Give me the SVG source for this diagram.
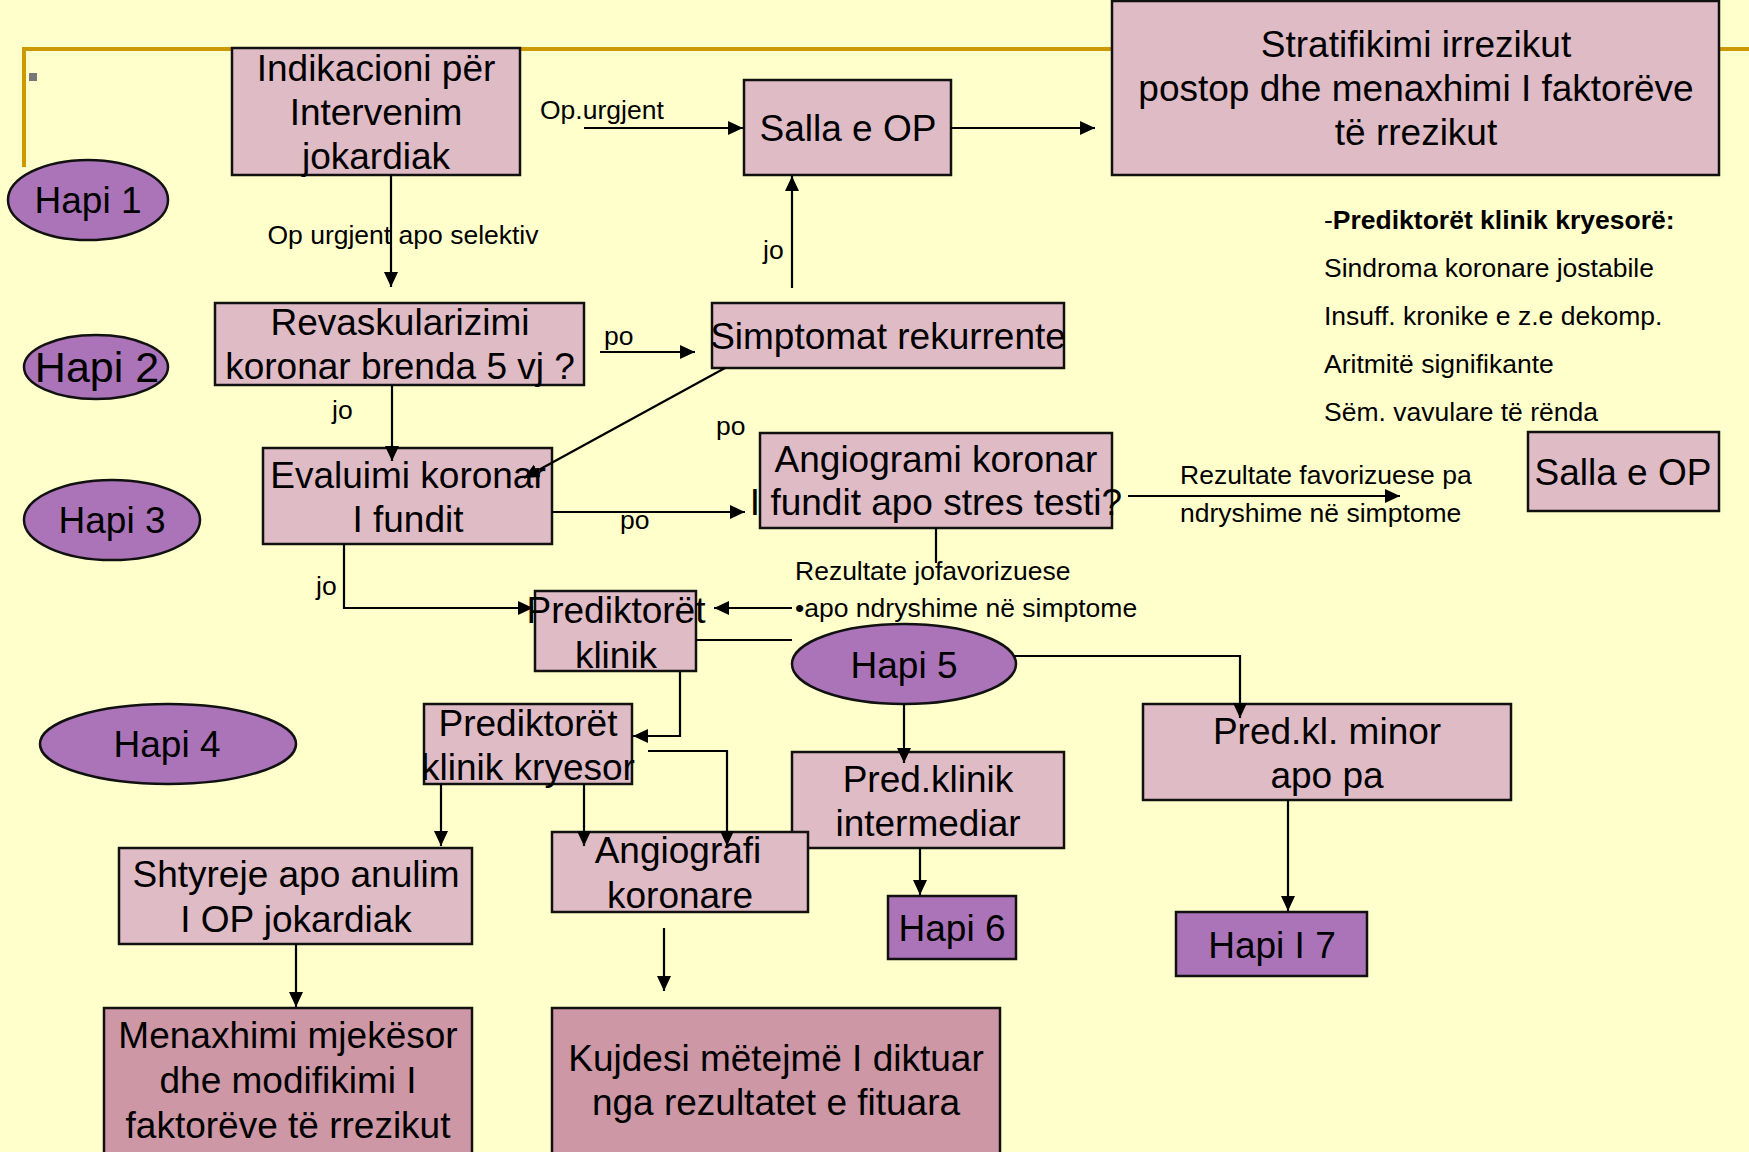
<svg xmlns="http://www.w3.org/2000/svg" width="1749" height="1152" viewBox="0 0 1749 1152">
<defs>
<marker id="arr" markerWidth="16" markerHeight="14" refX="15" refY="7" orient="auto" markerUnits="userSpaceOnUse"><path d="M0,0 L15,7 L0,14 Z" fill="#000"/></marker>
<style>
.box{fill:#DFBBC5;stroke:#111;stroke-width:2.5}
.dark{fill:#CD97A5;stroke:#111;stroke-width:2.5}
.step{fill:#AB74B9;stroke:#111;stroke-width:2.5}
.t{font-family:"Liberation Sans",Arial,sans-serif;font-size:37px;fill:#000;text-anchor:middle}
.s{font-family:"Liberation Sans",Arial,sans-serif;font-size:26.5px;fill:#000}
.c{fill:none;stroke:#000;stroke-width:2.2}
.a{marker-end:url(#arr)}
</style>
</defs>
<rect x="0" y="0" width="1749" height="1152" fill="#FFFFCC"/>
<path d="M24,167 V49 H1749" fill="none" stroke="#CC9900" stroke-width="4"/>
<rect x="29" y="73" width="8" height="8" fill="#777"/>

<g id="n-indikacioni"><rect class="box" x="232" y="48" width="288" height="127"/>
<text class="t" x="376" y="81">Indikacioni për</text><text class="t" x="376" y="125">Intervenim</text><text class="t" x="376" y="169">jokardiak</text></g>
<g id="n-salla1"><rect class="box" x="744" y="80" width="207" height="95"/><text class="t" x="848" y="141">Salla e OP</text></g>
<g id="n-strat"><rect class="box" x="1112" y="1" width="607" height="174"/>
<text class="t" x="1416" y="57">Stratifikimi irrezikut</text><text class="t" x="1416" y="101">postop dhe menaxhimi I faktorëve</text><text class="t" x="1416" y="145">të rrezikut</text></g>
<g id="n-hapi1"><ellipse class="step" cx="88" cy="200" rx="80" ry="40"/><text class="t" x="88" y="213">Hapi 1</text></g>
<g id="n-hapi2"><ellipse class="step" cx="96" cy="367" rx="72" ry="32"/><text class="t" x="97" y="382" style="font-size:43px">Hapi 2</text></g>
<g id="n-revask"><rect class="box" x="215" y="303" width="369" height="82"/>
<text class="t" x="400" y="335">Revaskularizimi</text><text class="t" x="400" y="379">koronar brenda 5 vj ?</text></g>
<g id="n-simpt"><rect class="box" x="712" y="303" width="352" height="65"/><text class="t" x="888" y="349">Simptomat rekurrente</text></g>
<g id="n-eval"><rect class="box" x="263" y="448" width="289" height="96"/>
<text class="t" x="408" y="488">Evaluimi koronar</text><text class="t" x="408" y="532">I fundit</text></g>
<g id="n-angio"><rect class="box" x="760" y="433" width="352" height="95"/>
<text class="t" x="936" y="472">Angiogrami koronar</text><text class="t" x="936" y="515">I fundit apo stres testi?</text></g>
<g id="n-hapi3"><ellipse class="step" cx="112" cy="520" rx="88" ry="40"/><text class="t" x="112" y="533">Hapi 3</text></g>
<g id="n-salla2"><rect class="box" x="1528" y="432" width="191" height="79"/><text class="t" x="1623" y="485">Salla e OP</text></g>
<g id="n-list">
<text class="s" x="1324" y="229">-<tspan font-weight="bold">Prediktorët klinik kryesorë:</tspan></text>
<text class="s" x="1324" y="277">Sindroma koronare jostabile</text>
<text class="s" x="1324" y="325">Insuff. kronike e z.e dekomp.</text>
<text class="s" x="1324" y="373">Aritmitë signifikante</text>
<text class="s" x="1324" y="421">Sëm. vavulare të rënda</text>
</g>
<g id="n-predk"><rect class="box" x="535" y="591" width="161" height="80"/>
<text class="t" x="616" y="623">Prediktorët</text><text class="t" x="616" y="668">klinik</text></g>
<g id="n-hapi5"><ellipse class="step" cx="904" cy="664" rx="112" ry="40"/><text class="t" x="904" y="678">Hapi 5</text></g>
<g id="n-hapi4"><ellipse class="step" cx="168" cy="744" rx="128" ry="40"/><text class="t" x="167" y="757">Hapi 4</text></g>
<g id="n-predkk"><rect class="box" x="424" y="704" width="208" height="80"/>
<text class="t" x="528" y="736">Prediktorët</text><text class="t" x="528" y="780">klinik kryesor</text></g>
<g id="n-inter"><rect class="box" x="792" y="752" width="272" height="96"/>
<text class="t" x="928" y="792">Pred.klinik</text><text class="t" x="928" y="836">intermediar</text></g>
<g id="n-minor"><rect class="box" x="1143" y="704" width="368" height="96"/>
<text class="t" x="1327" y="744">Pred.kl. minor</text><text class="t" x="1327" y="788">apo pa</text></g>
<g id="n-shtyr"><rect class="box" x="119" y="848" width="353" height="96"/>
<text class="t" x="296" y="887">Shtyreje apo anulim</text><text class="t" x="296" y="932">I OP jokardiak</text></g>
<g id="n-angiog"><rect class="box" x="552" y="832" width="256" height="80"/>
<text class="t" x="678" y="863">Angiografi</text><text class="t" x="680" y="908">koronare</text></g>
<g id="n-hapi6"><rect class="step" x="888" y="896" width="128" height="63"/><text class="t" x="952" y="941">Hapi 6</text></g>
<g id="n-hapi7"><rect class="step" x="1176" y="912" width="191" height="64"/><text class="t" x="1272" y="958">Hapi I 7</text></g>
<g id="n-menax"><rect class="dark" x="104" y="1008" width="368" height="146"/>
<text class="t" x="288" y="1048">Menaxhimi mjekësor</text><text class="t" x="288" y="1093">dhe modifikimi I</text><text class="t" x="288" y="1138">faktorëve të rrezikut</text></g>
<g id="n-kujd"><rect class="dark" x="552" y="1008" width="448" height="146"/>
<text class="t" x="776" y="1071">Kujdesi mëtejmë I diktuar</text><text class="t" x="776" y="1115">nga rezultatet e fituara</text></g>

<g id="connectors">
<path class="c a" d="M391,175 V287"/>
<path class="c a" d="M584,128 H743"/>
<path class="c a" d="M951,128 H1095"/>
<path class="c a" d="M792,288 V176"/>
<path class="c a" d="M600,352 H695"/>
<path class="c a" d="M392,385 V461"/>
<path class="c a" d="M725,368 L524,478"/>
<path class="c a" d="M552,512 H745"/>
<path class="c a" d="M344,544 V608 H533"/>
<path class="c a" d="M1128,496 H1400"/>
<path class="c" d="M936,528 V563"/>
<path class="c a" d="M792,608 H714"/>
<path class="c" d="M696,640 H792"/>
<path class="c a" d="M680,672 V736 H633"/>
<path class="c a" d="M904,704 V763"/>
<path class="c a" d="M1014,656 H1240 V718"/>
<path class="c a" d="M441,784 V846"/>
<path class="c a" d="M584,784 V846"/>
<path class="c a" d="M648,751 H727 V846"/>
<path class="c a" d="M296,944 V1007"/>
<path class="c a" d="M664,928 V991"/>
<path class="c a" d="M920,848 V895"/>
<path class="c a" d="M1288,800 V911"/>
<text class="s" x="540" y="119">Op.urgjent</text>
<text class="s" x="403" y="244" text-anchor="middle">Op urgjent apo selektiv</text>
<text class="s" x="763" y="259">jo</text>
<text class="s" x="604" y="345">po</text>
<text class="s" x="332" y="419">jo</text>
<text class="s" x="716" y="435">po</text>
<text class="s" x="620" y="529">po</text>
<text class="s" x="316" y="595">jo</text>
<text class="s" x="1180" y="484">Rezultate favorizuese pa</text>
<text class="s" x="1180" y="522">ndryshime në simptome</text>
<text class="s" x="795" y="580">Rezultate jofavorizuese</text>
<text class="s" x="795" y="617">•apo ndryshime në simptome</text>
</g>
</svg>
